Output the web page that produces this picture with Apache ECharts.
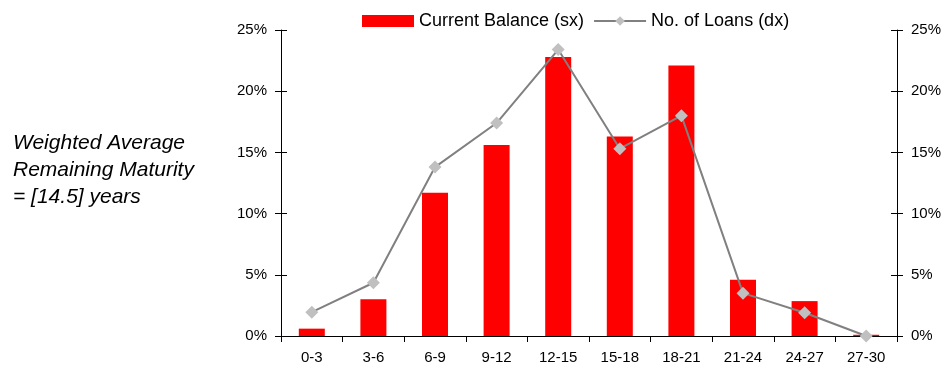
<!DOCTYPE html>
<html>
<head>
<meta charset="utf-8">
<script src="https://cdn.jsdelivr.net/npm/echarts@6/dist/echarts.min.js"></script>
<style>
  html, body { margin: 0; padding: 0; background: #fff; }
  #chart { width: 951px; height: 374px; }
</style>
</head>
<body>
<div id="chart"></div>
<script>
// Remaining maturity buckets (years)
const categories = ['0-3', '3-6', '6-9', '9-12', '12-15', '15-18', '18-21', '21-24', '24-27', '27-30'];
// Share of current balance, % (left axis)
const currentBalance = [0.6, 3.0, 11.7, 15.6, 22.8, 16.3, 22.1, 4.6, 2.85, 0.1];
// Share of number of loans, % (right axis)
const numLoans = [1.95, 4.35, 13.8, 17.4, 23.4, 15.3, 18.0, 3.5, 1.9, 0.0];
// Axis ticks, %
const pctMin = 0, pctMax = 25, pctStep = 5;

const font = 'Liberation Sans, Arial, sans-serif';
const chart = echarts.init(document.getElementById('chart'));

function pctAxis(position, withLabels, inside) {
  return {
    type: 'value', position: position,
    min: pctMin, max: pctMax, interval: pctStep,
    axisLine: { show: withLabels, lineStyle: { color: '#000', width: 1 } },
    axisTick: { show: true, inside: inside, length: 6, lineStyle: { color: '#000' } },
    axisLabel: { show: withLabels, formatter: '{value}%', color: '#000', fontSize: 15, fontFamily: font, margin: 14 },
    splitLine: { show: false }
  };
}

chart.setOption({
  animation: false,
  textStyle: { fontFamily: font },
  grid: { left: 281, right: 54, top: 30, bottom: 38 },
  legend: {
    top: 7, left: 357,
    itemWidth: 52, itemHeight: 12, itemGap: 9,
    textStyle: { color: '#000', fontSize: 18, fontFamily: font },
    data: [
      { name: 'Current Balance (sx)', icon: 'rect' },
      { name: 'No. of Loans (dx)' }
    ]
  },
  xAxis: {
    type: 'category', data: categories, boundaryGap: true,
    axisLine: { lineStyle: { color: '#000', width: 1 } },
    axisTick: { show: true, length: 6, lineStyle: { color: '#000' } },
    axisLabel: { color: '#000', fontSize: 15, fontFamily: font, margin: 14 }
  },
  yAxis: [
    pctAxis('left', true, false),
    pctAxis('right', true, false),
    pctAxis('left', false, true),
    pctAxis('right', false, true)
  ],
  graphic: [{
    type: 'text', left: 13, top: 130,
    style: {
      text: 'Weighted Average\nRemaining Maturity\n= [14.5] years',
      font: 'italic 21px ' + font, fill: '#000', lineHeight: 27
    }
  }],
  series: [
    {
      name: 'Current Balance (sx)', type: 'bar', yAxisIndex: 0,
      data: currentBalance, barWidth: 26,
      itemStyle: { color: '#ff0000' }
    },
    {
      name: 'No. of Loans (dx)', type: 'line', yAxisIndex: 1,
      data: numLoans,
      lineStyle: { color: '#808080', width: 2 },
      itemStyle: { color: '#c0c0c0' },
      symbol: 'diamond', symbolSize: 13, showSymbol: true
    }
  ]
});
</script>
</body>
</html>
